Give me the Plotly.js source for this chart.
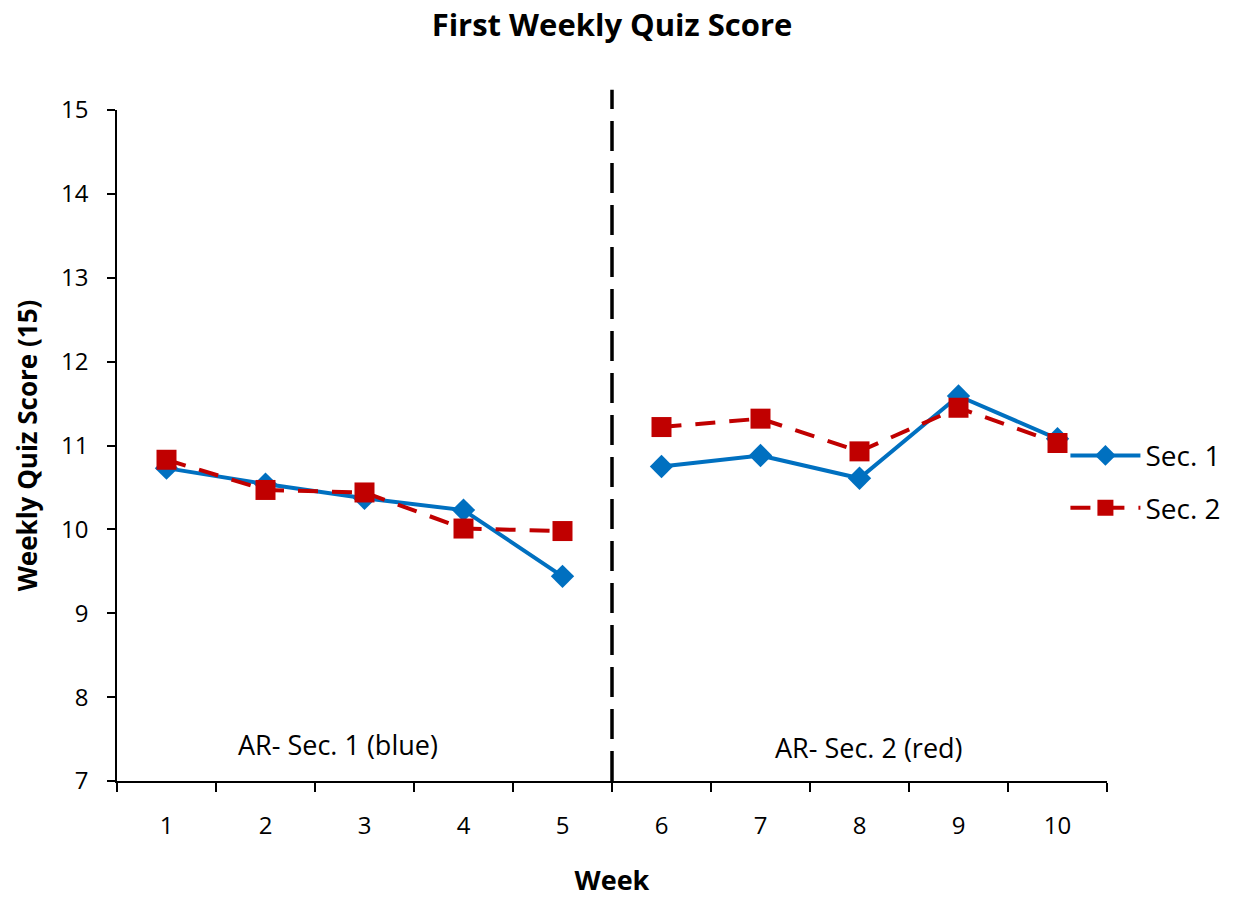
<!DOCTYPE html>
<html>
<head>
<meta charset="utf-8">
<script src="https://cdn.plot.ly/plotly-3.0.1.min.js"></script>
<style>html,body{margin:0;padding:0;background:#fff;}#chart{width:1233px;height:901px;}</style>
</head>
<body>
<div id="chart"></div>
<script>
const weeks = ['1','2','3','4','5','6','7','8','9','10'];
const sec1 = [10.73, 10.54, 10.37, 10.23, 9.44, 10.75, 10.88, 10.61, 11.59, 11.08];
const sec2 = [10.83, 10.47, 10.44, 10.01, 9.98, 11.22, 11.32, 10.93, 11.45, 11.03];
const phaseLabels = ['AR- Sec. 1 (blue)', 'AR- Sec. 2 (red)'];
const seriesNames = ['Sec. 1', 'Sec. 2'];

const FONT = '"Open Sans", Lato, sans-serif';
const BLUE = '#0070C0', RED = '#C00000';

function phaseTraces(vals, name, color, dash, symbol, msize, group) {
  const a = {x: weeks.slice(0,5), y: vals.slice(0,5)};
  const b = {x: weeks.slice(5), y: vals.slice(5)};
  return [a, b].map((p, i) => ({
    type: 'scatter', mode: 'lines+markers', x: p.x, y: p.y, name: name,
    legendgroup: group, showlegend: i === 0,
    line: {color: color, width: 4, dash: dash},
    marker: {symbol: symbol, size: msize, color: color},
    cliponaxis: false
  }));
}

const data = [
  ...phaseTraces(sec1, seriesNames[0], BLUE, 'solid', 'diamond', 18, 'g1'),
  ...phaseTraces(sec2, seriesNames[1], RED, '20px,14px', 'square', 20, 'g2')
];

const layout = {
  width: 1233, height: 901,
  margin: {l: 117, r: 126, t: 110, b: 120, autoexpand: false},
  paper_bgcolor: '#fff', plot_bgcolor: '#fff',
  font: {family: FONT, size: 24, color: '#000'},
  title: {text: '<b>First Weekly Quiz Score</b>', font: {family: FONT, size: 31, color: '#000'}, x: 0.5, xref: 'paper', y: 0.972, yref: 'container', yanchor: 'middle'},
  showlegend: true,
  legend: {x: 0.958, xanchor: 'left', y: 0.522, yanchor: 'top', font: {family: FONT, size: 28, color: '#000'}, bgcolor: 'rgba(0,0,0,0)', tracegroupgap: 13, itemwidth: 70},
  xaxis: {
    type: 'category', categoryorder: 'array', categoryarray: weeks,
    range: [-0.5, 9.5], tickson: 'boundaries', automargin: false,
    showline: true, linecolor: '#000', linewidth: 1.5,
    ticks: 'outside', ticklen: 9, tickcolor: '#000', tickwidth: 1.5,
    showgrid: false, zeroline: false,
    tickfont: {family: FONT, size: 24}, ticklabelstandoff: 22,
    title: {text: '<b>Week</b>', font: {family: FONT, size: 27}, standoff: 32}
  },
  yaxis: {
    range: [7, 15], dtick: 1, tick0: 7, automargin: false,
    showline: true, linecolor: '#000', linewidth: 1.5,
    ticks: 'outside', ticklen: 8, tickcolor: '#000', tickwidth: 1.5,
    showgrid: false, zeroline: false,
    tickfont: {family: FONT, size: 24}, ticklabelstandoff: 14,
    title: {text: '<b>Weekly Quiz Score (15)</b>', font: {family: FONT, size: 26}, standoff: 16}
  },
  shapes: [{
    type: 'line', xref: 'x', yref: 'paper', x0: 4.5, x1: 4.5, y0: 0, y1: 1.03,
    line: {color: '#000', width: 3.5, dash: '30px,12px'}
  }],
  annotations: [
    {text: phaseLabels[0], xref: 'x', yref: 'y', x: 1.73, y: 7.43, showarrow: false, font: {family: FONT, size: 27}},
    {text: phaseLabels[1], xref: 'x', yref: 'y', x: 7.1, y: 7.405, showarrow: false, font: {family: FONT, size: 27}}
  ]
};

Plotly.newPlot('chart', data, layout, {displayModeBar: false});
</script>
</body>
</html>
